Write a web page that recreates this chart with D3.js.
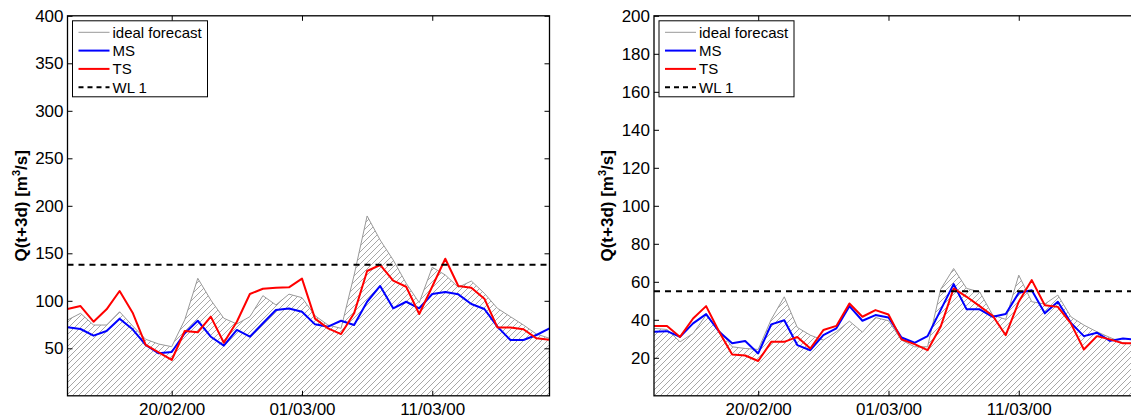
<!DOCTYPE html>
<html>
<head>
<meta charset="utf-8">
<script src="https://cdn.jsdelivr.net/npm/d3@7/dist/d3.min.js"></script>
<style>
  html, body { margin: 0; padding: 0; background: #fff; }
  svg { display: block; font-family: "Liberation Sans", Arial, Helvetica, sans-serif; }
</style>
</head>
<body>
<svg id="chart" width="1131" height="419"></svg>
<script>
// Daily forecasts, 12/02/2000 to 20/03/2000
const startDate = "2000-02-12";
const endDate = "2000-03-20";
const tickDates = ["2000-02-20", "2000-03-01", "2000-03-11"];

// Station A (left panel)
const idealA = [79.8, 86.8, 74.5, 74.5, 88.5, 73.5, 59.5, 54.5, 51.7, 80, 123.7, 100.8, 81.6, 75.6, 83.3, 105.4, 95.6, 107, 103.3, 84.3, 74.5, 71, 127, 189.3, 164, 143, 118.4, 98, 135.3, 127.2, 114.2, 120.8, 107.9, 92.1, 83.3, 74.5, 65, 60.5];
const msA = [72.1, 70.3, 63.3, 68.2, 81.2, 70, 53.5, 44.7, 46.1, 65.8, 79, 62.2, 52.8, 69.3, 62.2, 76.3, 90.3, 91.9, 88.5, 75.2, 72.8, 79, 74.5, 99, 115.6, 92.1, 99, 92.1, 107.2, 109.3, 106.8, 96.6, 91.4, 72.8, 58.7, 58.7, 64, 71];
const tsA = [91.4, 94.5, 78, 91, 110.3, 87.5, 53.5, 45.8, 37.7, 68.2, 66.8, 83.3, 55.9, 78, 107.2, 112.7, 113.8, 114.2, 123.3, 81.2, 71, 65, 86.8, 131.4, 137.7, 121.2, 114.8, 86.1, 115, 144.3, 115.6, 113.8, 102.2, 72, 72, 70, 60.5, 59];
const wlA = 138;
const yTicksA = [50, 100, 150, 200, 250, 300, 350, 400];

// Station B (right panel)
const idealB = [35.5, 34.9, 28.4, 32.8, 42.5, 34.6, 25.8, 24.9, 24.4, 40.2, 52.1, 36, 31.9, 29.3, 33.7, 39.3, 33.5, 41.2, 39.5, 29.3, 25.8, 25.8, 56, 67, 56.5, 54.7, 42.5, 40.2, 63.5, 49.5, 48.3, 53, 41.6, 37.2, 33.7, 30.7, 27.9, 27];
const msB = [33.7, 34, 31, 38.1, 43, 33.7, 27.6, 28.8, 22.3, 37.6, 39.8, 26.7, 24, 31.9, 35.5, 47.2, 39.5, 42.5, 41.2, 30.7, 27.9, 31.4, 45.1, 58.8, 45.5, 45.5, 41.6, 43, 54.2, 55.6, 43.4, 49.5, 38.4, 31.4, 33.2, 28.9, 30.2, 29.5];
const tsB = [36.7, 36.7, 31, 40.7, 47.2, 33.7, 21.8, 21.2, 18.3, 28.4, 28.4, 31, 24.9, 34.6, 36.8, 48.6, 41.6, 45.1, 42.8, 29.7, 27.2, 24, 36.3, 56.5, 52.1, 47.2, 42.1, 31.9, 49.5, 60.9, 47.7, 46.8, 38.1, 24.4, 31.4, 29.7, 27.6, 27.8];
const wlB = 55;
const yTicksB = [20, 40, 60, 80, 100, 120, 140, 160, 180, 200];

const legendLabels = ["ideal forecast", "MS", "TS", "WL 1"];

const parse = d3.utcParse("%Y-%m-%d");
const days = d3.utcDay.range(parse(startDate), d3.utcDay.offset(parse(endDate), 1));
const svg = d3.select("#chart");

// Diagonal hatch used under the ideal forecast
const defs = svg.append("defs");
const hatch = defs.append("pattern")
  .attr("id", "hatch")
  .attr("patternUnits", "userSpaceOnUse")
  .attr("width", 6).attr("height", 6);
hatch.append("path")
  .attr("d", "M0,6 L6,0 M-1,1 L1,-1 M5,7 L7,5")
  .attr("stroke", "#8a8a8a")
  .attr("stroke-width", 0.75)
  .attr("fill", "none");

function drawPanel(cfg) {
  const { id, left, top, width, height, yMax, yTicks, ideal, ms, ts, wl } = cfg;
  const x = d3.scaleUtc().domain([days[0], days[days.length - 1]]).range([left, left + width]);
  const y = d3.scaleLinear().domain([0, yMax]).range([top + height, top]);

  defs.append("clipPath").attr("id", "clip-" + id)
    .append("rect").attr("x", left).attr("y", top).attr("width", width).attr("height", height);

  const g = svg.append("g");
  const plot = g.append("g").attr("clip-path", `url(#clip-${id})`);

  const pts = arr => arr.map((v, i) => [days[i], v]);

  plot.append("path")
    .datum(pts(ideal))
    .attr("fill", "url(#hatch)")
    .attr("d", d3.area().x(d => x(d[0])).y0(y(0)).y1(d => y(d[1])));

  const line = d3.line().x(d => x(d[0])).y(d => y(d[1]));
  plot.append("path").datum(pts(ideal))
    .attr("fill", "none").attr("stroke", "#999").attr("stroke-width", 1)
    .attr("d", line);
  plot.append("path").datum(pts(ms))
    .attr("fill", "none").attr("stroke", "#0000ff").attr("stroke-width", 2)
    .attr("stroke-linejoin", "round").attr("d", line);
  plot.append("path").datum(pts(ts))
    .attr("fill", "none").attr("stroke", "#ff0000").attr("stroke-width", 2)
    .attr("stroke-linejoin", "round").attr("d", line);
  plot.append("line")
    .attr("x1", left).attr("x2", left + width)
    .attr("y1", y(wl)).attr("y2", y(wl))
    .attr("stroke", "#000").attr("stroke-width", 2)
    .attr("stroke-dasharray", "6,5");

  // Axes with inward ticks on all four sides
  const xt = tickDates.map(parse);
  const fmt = d3.utcFormat("%d/%m/%y");
  const tickLen = 5;
  g.append("g").attr("transform", `translate(0,${top + height})`)
    .call(d3.axisBottom(x).tickValues(xt).tickFormat(fmt).tickSizeInner(-tickLen).tickSizeOuter(0).tickPadding(7))
    .call(a => a.select(".domain").remove());
  g.append("g").attr("transform", `translate(0,${top})`)
    .call(d3.axisTop(x).tickValues(xt).tickFormat("").tickSizeInner(-tickLen).tickSizeOuter(0))
    .call(a => a.select(".domain").remove());
  g.append("g").attr("transform", `translate(${left},0)`)
    .call(d3.axisLeft(y).tickValues(yTicks).tickSizeInner(-tickLen).tickSizeOuter(0).tickPadding(4))
    .call(a => a.select(".domain").remove());
  g.append("g").attr("transform", `translate(${left + width},0)`)
    .call(d3.axisRight(y).tickValues(yTicks).tickFormat("").tickSizeInner(-tickLen).tickSizeOuter(0))
    .call(a => a.select(".domain").remove());

  g.selectAll(".tick text")
    .attr("font-family", "'Liberation Sans', Arial, sans-serif")
    .attr("font-size", 17).attr("fill", "#000");
  g.selectAll(".tick line").attr("stroke", "#000");

  g.append("rect")
    .attr("x", left).attr("y", top).attr("width", width).attr("height", height)
    .attr("fill", "none").attr("stroke", "#000").attr("stroke-width", 1.3);

  // Y axis title
  const yl = g.append("text")
    .attr("transform", `translate(${left - 41},${top + height / 2}) rotate(-90)`)
    .attr("text-anchor", "middle")
    .attr("font-size", 17).attr("font-weight", "bold");
  yl.append("tspan").text("Q(t+3d) [m");
  yl.append("tspan").attr("font-size", 11).attr("dy", -7).text("3");
  yl.append("tspan").attr("dy", 7).text("/s]");

  // Legend
  const lx = left + 5, ly = top + 5;
  const lg = g.append("g");
  lg.append("rect").attr("x", lx).attr("y", ly).attr("width", 135).attr("height", 76)
    .attr("fill", "#fff").attr("stroke", "#000").attr("stroke-width", 1);
  const styles = [
    { stroke: "#999", w: 1, dash: null },
    { stroke: "#0000ff", w: 2, dash: null },
    { stroke: "#ff0000", w: 2, dash: null },
    { stroke: "#000", w: 2, dash: "5,4" }
  ];
  legendLabels.forEach((lab, i) => {
    const cy = ly + 11.5 + i * 18.3;
    lg.append("line").attr("x1", lx + 6).attr("x2", lx + 37).attr("y1", cy).attr("y2", cy)
      .attr("stroke", styles[i].stroke).attr("stroke-width", styles[i].w)
      .attr("stroke-dasharray", styles[i].dash);
    lg.append("text").attr("x", lx + 40).attr("y", cy + 5.5)
      .attr("font-size", 15).text(lab);
  });
}

drawPanel({ id: "a", left: 67.5, top: 15.8, width: 482, height: 380, yMax: 400, yTicks: yTicksA,
  ideal: idealA, ms: msA, ts: tsA, wl: wlA });
drawPanel({ id: "b", left: 654, top: 15.8, width: 482, height: 380, yMax: 200, yTicks: yTicksB,
  ideal: idealB, ms: msB, ts: tsB, wl: wlB });
</script>
</body>
</html>
